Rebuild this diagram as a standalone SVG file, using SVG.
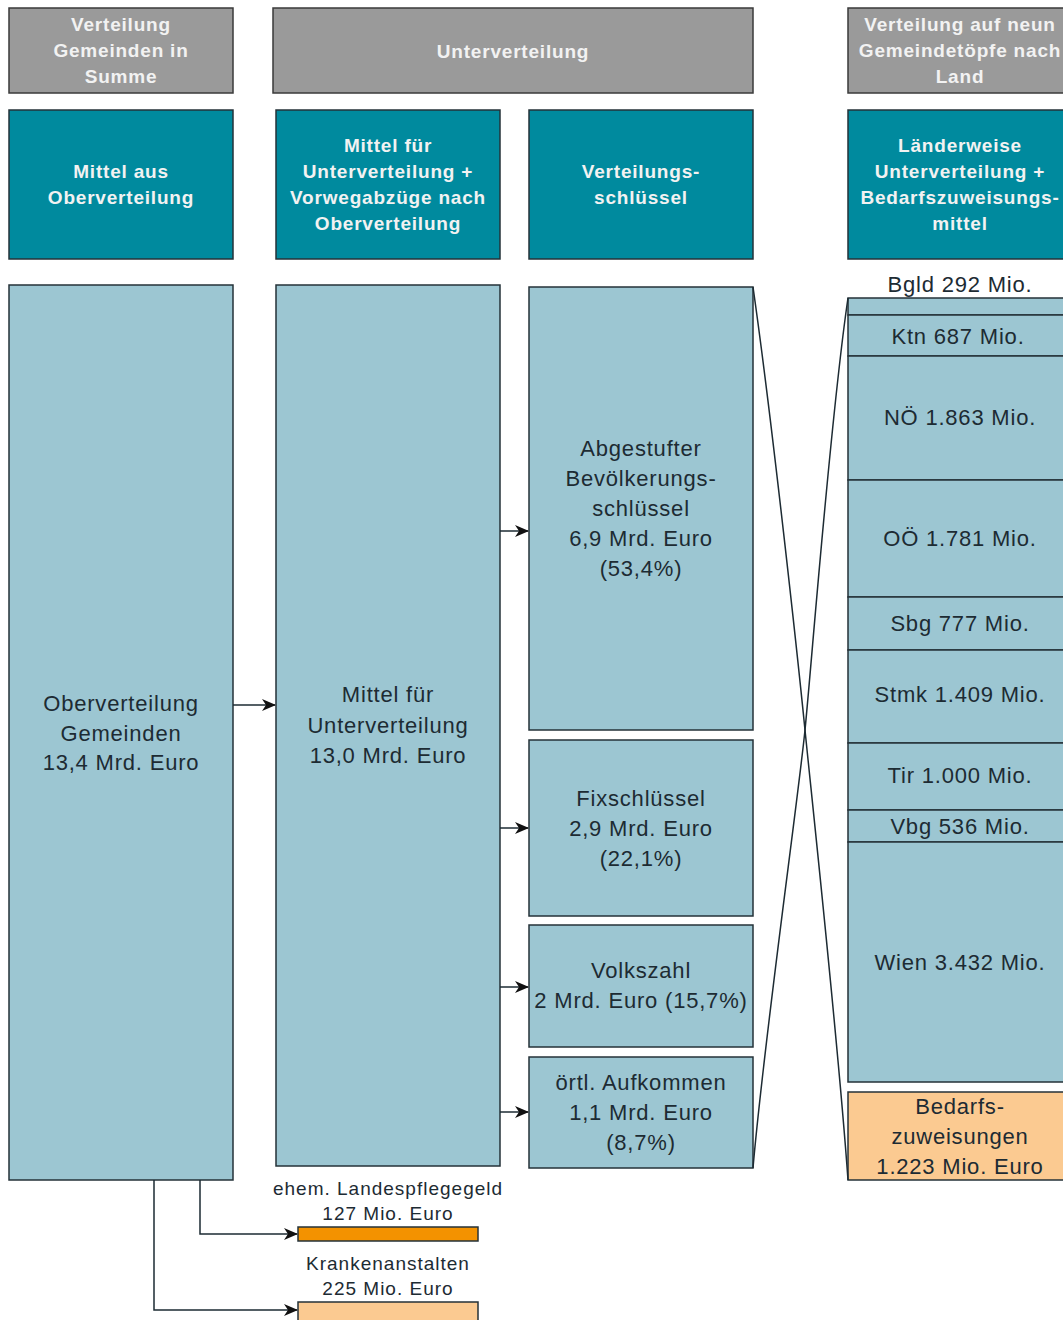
<svg xmlns="http://www.w3.org/2000/svg" width="1063" height="1320" viewBox="0 0 1063 1320">
<defs>
<style>
.hdr{fill:#9a9a9a;stroke:#3a3a3a;stroke-width:1.5}
.teal{fill:#008a9e;stroke:#243238;stroke-width:1.5}
.box{fill:#9cc6d2;stroke:#243238;stroke-width:1.5}
.org{fill:#f39200;stroke:#243238;stroke-width:1.5}
.lorg{fill:#fbca91;stroke:#243238;stroke-width:1.5}
.ht{font-family:"Liberation Sans",Arial,sans-serif;font-weight:bold;font-size:19px;letter-spacing:0.8px;fill:#f2f2f2;text-anchor:middle}
.bt{font-family:"Liberation Sans",Arial,sans-serif;font-size:22px;letter-spacing:0.8px;fill:#1d2b33;text-anchor:middle}
.st{font-family:"Liberation Sans",Arial,sans-serif;font-size:19px;letter-spacing:1px;fill:#1d2b33;text-anchor:middle}
.ln{fill:none;stroke:#1d2b33;stroke-width:1.5}
</style>
<marker id="arr" markerWidth="14" markerHeight="12" refX="13" refY="6" orient="auto" markerUnits="userSpaceOnUse">
<path d="M0,0 L14,6 L0,12 L4,6 z" fill="#111"/>
</marker>
</defs>
<rect width="1063" height="1320" fill="#ffffff"/>

<g id="h-summe"><rect class="hdr" x="9" y="8" width="224" height="85"/>
<text class="ht" x="121" y="31">Verteilung</text><text class="ht" x="121" y="57">Gemeinden in</text><text class="ht" x="121" y="83">Summe</text></g>
<g id="h-unter"><rect class="hdr" x="273" y="8" width="480" height="85"/>
<text class="ht" x="513" y="58">Unterverteilung</text></g>
<g id="h-land"><rect class="hdr" x="848" y="8" width="225" height="85"/>
<text class="ht" x="960" y="31">Verteilung auf neun</text><text class="ht" x="960" y="57">Gemeindetöpfe nach</text><text class="ht" x="960" y="83">Land</text></g>

<g id="t-ober"><rect class="teal" x="9" y="110" width="224" height="149"/>
<text class="ht" x="121" y="178">Mittel aus</text><text class="ht" x="121" y="204">Oberverteilung</text></g>
<g id="t-mittel"><rect class="teal" x="276" y="110" width="224" height="149"/>
<text class="ht" x="388" y="152">Mittel für</text><text class="ht" x="388" y="178">Unterverteilung +</text><text class="ht" x="388" y="204">Vorwegabzüge nach</text><text class="ht" x="388" y="230">Oberverteilung</text></g>
<g id="t-schl"><rect class="teal" x="529" y="110" width="224" height="149"/>
<text class="ht" x="641" y="178">Verteilungs-</text><text class="ht" x="641" y="204">schlüssel</text></g>
<g id="t-land"><rect class="teal" x="848" y="110" width="225" height="149"/>
<text class="ht" x="960" y="152">Länderweise</text><text class="ht" x="960" y="178">Unterverteilung +</text><text class="ht" x="960" y="204">Bedarfszuweisungs-</text><text class="ht" x="960" y="230">mittel</text></g>

<g id="n-ober"><rect class="box" x="9" y="285" width="224" height="895"/>
<text class="bt" x="121" y="711">Oberverteilung</text><text class="bt" x="121" y="741">Gemeinden</text><text class="bt" x="121" y="770">13,4 Mrd. Euro</text></g>
<g id="n-mittel"><rect class="box" x="276" y="285" width="224" height="881"/>
<text class="bt" x="388" y="702">Mittel für</text><text class="bt" x="388" y="733">Unterverteilung</text><text class="bt" x="388" y="763">13,0 Mrd. Euro</text></g>
<g id="n-abg"><rect class="box" x="529" y="287" width="224" height="443"/>
<text class="bt" x="641" y="456">Abgestufter</text><text class="bt" x="641" y="486">Bevölkerungs-</text><text class="bt" x="641" y="516">schlüssel</text><text class="bt" x="641" y="546">6,9 Mrd. Euro</text><text class="bt" x="641" y="576">(53,4%)</text></g>
<g id="n-fix"><rect class="box" x="529" y="740" width="224" height="176"/>
<text class="bt" x="641" y="806">Fixschlüssel</text><text class="bt" x="641" y="836">2,9 Mrd. Euro</text><text class="bt" x="641" y="866">(22,1%)</text></g>
<g id="n-volk"><rect class="box" x="529" y="925" width="224" height="122"/>
<text class="bt" x="641" y="978">Volkszahl</text><text class="bt" x="641" y="1008">2 Mrd. Euro (15,7%)</text></g>
<g id="n-oertl"><rect class="box" x="529" y="1057" width="224" height="111"/>
<text class="bt" x="641" y="1090">örtl. Aufkommen</text><text class="bt" x="641" y="1120">1,1 Mrd. Euro</text><text class="bt" x="641" y="1150">(8,7%)</text></g>

<g id="n-bgld"><rect class="box" x="848" y="298" width="225" height="17"/><text class="bt" x="960" y="292">Bgld 292 Mio.</text></g>
<g id="n-ktn"><rect class="box" x="848" y="315" width="225" height="41"/><text class="bt" x="958" y="344">Ktn 687 Mio.</text></g>
<g id="n-noe"><rect class="box" x="848" y="356" width="225" height="124"/><text class="bt" x="960" y="425">NÖ 1.863 Mio.</text></g>
<g id="n-ooe"><rect class="box" x="848" y="480" width="225" height="117"/><text class="bt" x="960" y="546">OÖ 1.781 Mio.</text></g>
<g id="n-sbg"><rect class="box" x="848" y="597" width="225" height="53"/><text class="bt" x="960" y="631">Sbg 777 Mio.</text></g>
<g id="n-stmk"><rect class="box" x="848" y="650" width="225" height="93"/><text class="bt" x="960" y="702">Stmk 1.409 Mio.</text></g>
<g id="n-tir"><rect class="box" x="848" y="743" width="225" height="67"/><text class="bt" x="960" y="783">Tir 1.000 Mio.</text></g>
<g id="n-vbg"><rect class="box" x="848" y="810" width="225" height="32"/><text class="bt" x="960" y="834">Vbg 536 Mio.</text></g>
<g id="n-wien"><rect class="box" x="848" y="842" width="225" height="240"/><text class="bt" x="960" y="970">Wien 3.432 Mio.</text></g>
<g id="n-bedarf"><rect class="lorg" x="848" y="1092" width="225" height="88"/>
<text class="bt" x="960" y="1114">Bedarfs-</text><text class="bt" x="960" y="1144">zuweisungen</text><text class="bt" x="960" y="1174">1.223 Mio. Euro</text></g>

<g id="n-pflege"><rect class="org" x="298" y="1227" width="180" height="14"/>
<text class="st" x="388" y="1195">ehem. Landespflegegeld</text><text class="st" x="388" y="1220">127 Mio. Euro</text></g>
<g id="n-kranken"><rect class="lorg" x="298" y="1302" width="180" height="22"/>
<text class="st" x="388" y="1270">Krankenanstalten</text><text class="st" x="388" y="1295">225 Mio. Euro</text></g>

<g id="connectors">
<path class="ln" d="M233,705 H275" marker-end="url(#arr)"/>
<path class="ln" d="M500,531 H528" marker-end="url(#arr)"/>
<path class="ln" d="M500,828 H528" marker-end="url(#arr)"/>
<path class="ln" d="M500,987 H528" marker-end="url(#arr)"/>
<path class="ln" d="M500,1112 H528" marker-end="url(#arr)"/>
<path class="ln" d="M200,1180 V1234 H297" marker-end="url(#arr)"/>
<path class="ln" d="M154,1180 V1310 H297" marker-end="url(#arr)"/>
<path class="ln" d="M753,287 C772,420 798,660 805,730 C812,800 838,1040 848,1180"/>
<path class="ln" d="M848,298 C830,420 812,660 805,730 C798,800 764,1040 753,1168"/>
</g>
</svg>
